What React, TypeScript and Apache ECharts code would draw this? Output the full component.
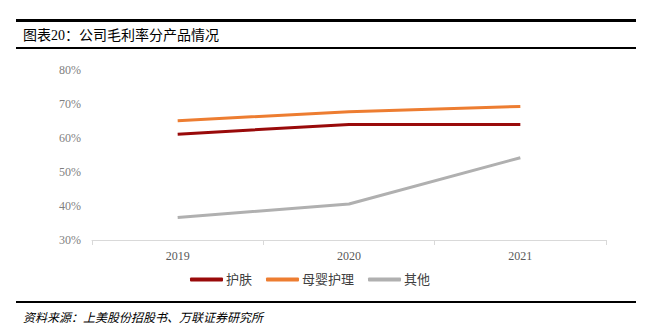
import React, { useEffect, useRef } from "react";
import * as echarts from "echarts";

const categories = ["2019", "2020", "2021"];
const skinCare = [61.1, 64.0, 64.0];
const babyCare = [65.1, 67.7, 69.3];
const others = [36.6, 40.6, 54.2];
const seriesNames = ["护肤", "母婴护理", "其他"];
const titleText = "图表20：公司毛利率分产品情况";
const sourceText = "资料来源：上美股份招股书、万联证券研究所";

const FONT = "'Liberation Serif', 'Noto Sans CJK SC', serif";

export default function App() {
  const ref = useRef<HTMLDivElement>(null);
  useEffect(() => {
    const chart = echarts.init(ref.current!, null, { renderer: "svg" });
    const mk = (name: string, data: number[], color: string) => ({
      name,
      type: "line",
      data,
      symbol: "none",
      lineStyle: { width: 3, color },
      itemStyle: { color },
    });
    chart.setOption({
      animation: false,
      backgroundColor: "#ffffff",
      grid: { left: 92, right: 46, top: 70, bottom: 96, containLabel: false },
      xAxis: {
        type: "category",
        data: categories,
        boundaryGap: true,
        axisLine: { lineStyle: { color: "#d9d9d9", width: 1 } },
        axisTick: { show: true, length: 5, lineStyle: { color: "#d9d9d9" } },
        axisLabel: { color: "#595959", fontSize: 12, fontFamily: FONT, margin: 10 },
      },
      yAxis: {
        type: "value",
        min: 30,
        max: 80,
        interval: 10,
        axisLine: { show: false },
        axisTick: { show: false },
        splitLine: { show: false },
        axisLabel: {
          color: "#7f7f7f",
          fontSize: 12,
          fontFamily: FONT,
          margin: 11,
          formatter: (v: number) => v + "%",
        },
      },
      legend: {
        data: seriesNames,
        bottom: 45,
        left: 185,
        icon: "roundRect",
        itemWidth: 33,
        itemHeight: 4,
        itemGap: 14,
        textStyle: { color: "#404040", fontSize: 13, fontFamily: FONT, padding: [0, 0, 0, -2] },
      },
      series: [
        mk(seriesNames[0], skinCare, "#990a0a"),
        mk(seriesNames[1], babyCare, "#ed7d31"),
        mk(seriesNames[2], others, "#b0b0b0"),
      ],
      graphic: [
        { type: "rect", shape: { x: 16, y: 19, width: 620, height: 3 }, style: { fill: "#000" } },
        { type: "rect", shape: { x: 16, y: 47, width: 620, height: 2 }, style: { fill: "#000" } },
        { type: "rect", shape: { x: 16, y: 301, width: 620, height: 2 }, style: { fill: "#000" } },
        {
          type: "text",
          x: 23,
          y: 35,
          style: { text: titleText, fontSize: 14, fill: "#000", fontFamily: FONT, verticalAlign: "middle" },
        },
        {
          type: "text",
          x: 23,
          y: 318,
          style: {
            text: sourceText,
            fontSize: 12,
            fontStyle: "italic",
            fill: "#000",
            fontFamily: FONT,
            verticalAlign: "middle",
          },
        },
      ],
    });
    return () => chart.dispose();
  }, []);
  return <div ref={ref} style={{ width: 652, height: 336, margin: -8 }} />;
}
